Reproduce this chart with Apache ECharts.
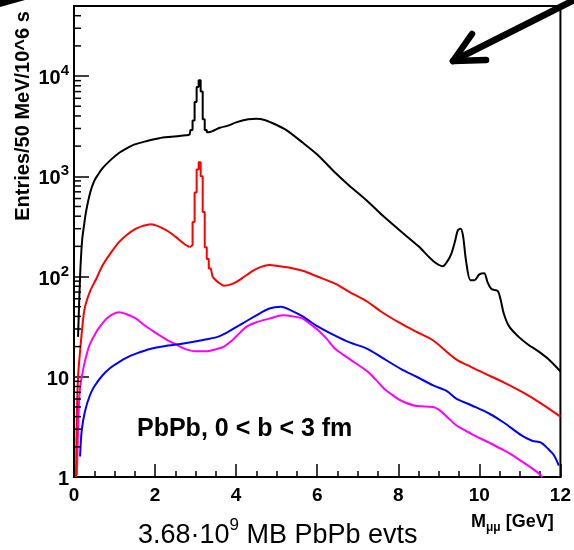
<!DOCTYPE html>
<html><head><meta charset="utf-8">
<script src="https://cdn.jsdelivr.net/npm/echarts@6/dist/echarts.min.js"></script>
<style>html,body{margin:0;padding:0;background:#fff}#c{width:574px;height:550px}</style>
</head><body><div id="c"></div>
<script>
// ---- data ----
const blackMass = [0.1,0.15,0.2,0.25,0.3,0.4,0.5,0.6,0.7,0.9,1.1,1.3,1.5,1.8,2.1,2.4,2.7,2.85,
  3.4,3.6,3.8,4.0,4.3,4.5,4.7,5.0,5.23,5.64,6.0,6.44,6.8,7.24,7.6,8.06,8.5,8.86,9.1,9.2,9.3,9.4,9.47,9.54,9.6,9.67,9.78,9.88,10.0,10.12,10.2,10.3,10.45,10.52,10.6,10.73,10.97,11.2,11.45,11.7,12.0];
const blackVal  = [25,100,230,330,450,690,900,1050,1200,1450,1700,1900,2080,2250,2400,2480,2550,2580,
  2800,3050,3200,3450,3700,3760,3650,3250,2900,2170,1650,1090,800,565,410,283,200,143,127,140,165,225,290,300,250,145,92,92,105,108,88,75,72,60,43,32,25,21,18,15,11.3];
const blackPeakMass = [2.9,2.95,3.0,3.05,3.1,3.15,3.2,3.25,3.3];
const blackPeakVal  = [2900,3600,5500,7800,9100,7000,3700,2900,2750];

const redMass = [0.05,0.07,0.1,0.15,0.2,0.25,0.3,0.4,0.55,0.7,0.9,1.11,1.3,1.53,1.7,1.89,2.1,2.32,2.5,2.73,2.85,
  3.42,3.55,3.7,3.85,4.02,4.25,4.5,4.82,5.0,5.3,5.64,6.0,6.44,6.8,7.24,7.6,8.06,8.45,8.86,9.42,9.8,10.24,10.6,11.04,11.5,12.0];
const redVal  = [1,4,10,18,30,45,55,72,95,128,170,220,260,300,320,333,315,283,250,210,196,
  99,88,81,83,89,103,119,130,128,123,114,100,85,70,56,44,34,28,23,15,12.5,10.3,8.8,7.1,5.5,4.0];
const redPeakMass = [2.9,2.95,3.0,3.05,3.1,3.15,3.2,3.25,3.3,3.35];
const redPeakVal  = [205,350,690,1170,1380,1000,440,196,150,120];

const blueMass = [0.15,0.19,0.27,0.39,0.5,0.7,0.9,1.11,1.3,1.53,1.9,2.32,2.7,3.12,3.54,3.8,4.02,4.26,4.5,4.82,5.11,5.35,5.64,6.0,6.44,6.8,7.24,7.6,8.06,8.45,8.86,9.2,9.42,9.8,10.24,10.6,11.04,11.3,11.52,11.7,11.84,11.96];
const blueVal  = [1.6,2.9,4.5,6.5,8,10.3,12.3,14,15.5,17,19,20.5,21.5,23,25,28,31.6,36,41,48,50,46,40,32,25.7,22,19,15.5,12,10,8.2,7.2,6.1,5.2,4.3,3.5,2.6,2.3,2.2,1.9,1.65,1.3];

const magMass = [0.07,0.12,0.15,0.22,0.3,0.39,0.55,0.7,0.8,0.95,1.11,1.3,1.53,1.72,1.92,2.1,2.32,2.52,2.73,3.0,3.29,3.5,3.7,3.9,4.02,4.26,4.5,4.82,5.15,5.4,5.64,5.85,6.03,6.23,6.44,6.8,7.24,7.45,7.65,7.85,8.06,8.45,8.86,9.03,9.2,9.42,9.8,10.24,10.6,10.87,11.2,11.45,11.55];
const magVal  = [1.05,5,7.7,11.5,16,21,28,34,38,42,44,42,38,33,29,26,23,21,19,18,18,18.8,20,23,25.7,31.6,35,38,41,40,38,33,29,24,19,15,11.3,9.3,7.6,6.6,5.8,5.1,5.0,4.6,4.0,3.3,2.7,2.2,1.85,1.6,1.3,1.1,1.0];

const xTicks = [0,2,4,6,8,10,12];
const yMinorTicks = [2,3,4,5,6,7,8,9,20,30,40,50,60,70,80,90,200,300,400,500,600,700,800,900,2000,3000,4000,5000,6000,7000,8000,9000,20000,30000,40000];

// ---- build ----
const BW = 0.05;
function parts(mass, val, pm, pv) {
  const all = mass.map((m,i) => [m, val[i]]);
  if (!pm) return [all];
  const start = pm[0] - BW/2, end = pm[pm.length-1] + BW/2;
  const pre = all.filter(p => p[0] < start);
  const post = all.filter(p => p[0] > end);
  const peak = [pre[pre.length-1]];
  pm.forEach((c,i) => { peak.push([c - BW/2, pv[i]]); peak.push([c + BW/2, pv[i]]); });
  peak.push(post[0]);
  return [pre, peak, post];
}
const FF = '"Liberation Sans", Arial, Helvetica, sans-serif';
function lineSeries(data, color, smooth) {
  return {type:'line', data, showSymbol:false, symbol:'none', silent:true, clip:true, smooth,
    lineStyle:{color, width:2}, itemStyle:{color}};
}
function curve(mass, val, pm, pv, color) {
  const p = parts(mass, val, pm, pv);
  if (p.length === 1) return [lineSeries(p[0], color, 0.3)];
  return [lineSeries(p[0], color, 0.3), lineSeries(p[1], color, false), lineSeries(p[2], color, 0.3)];
}

const chart = echarts.init(document.getElementById('c'), null, {renderer:'canvas'});
chart.setOption({
  animation:false,
  backgroundColor:'#fff',
  grid:{left:74, right:5, top:6, bottom:73, show:true, borderColor:'#000', borderWidth:2, backgroundColor:'transparent'},
  xAxis:{type:'value', min:xTicks[0], max:xTicks[xTicks.length-1], interval:2,
    axisLine:{show:true, onZero:false, lineStyle:{color:'#000', width:2}},
    axisTick:{show:true, inside:true, length:13, lineStyle:{color:'#000', width:1.5}},
    minorTick:{show:true, splitNumber:4, length:6, lineStyle:{color:'#000', width:1.5}},
    splitLine:{show:false},
    axisLabel:{color:'#000', fontFamily:FF, fontWeight:'bold', fontSize:19, margin:9}
  },
  yAxis:{type:'log', logBase:10, min:1, max:50000, splitNumber:5,
    axisLine:{show:true, lineStyle:{color:'#000', width:2}},
    axisTick:{show:true, inside:true, length:15, lineStyle:{color:'#000', width:1.5}},
    splitLine:{show:false},
    axisLabel:{margin:5, color:'#000',
      formatter: v => {
        const l = Math.log10(v), e = Math.round(l);
        if (Math.abs(l - e) > 1e-6) return '';
        if (e === 0) return '{b|1}';
        if (e === 1) return '{b|10}';
        return '{b|10}{s|' + e + '}';
      },
      rich:{
        b:{fontFamily:FF, fontWeight:'bold', fontSize:20, color:'#000', lineHeight:25, verticalAlign:'bottom'},
        s:{fontFamily:FF, fontWeight:'bold', fontSize:15, color:'#000', lineHeight:25, verticalAlign:'top'}
      }
    }
  },
  series:[
    ...curve(magMass, magVal, null, null, '#ff00ff'),
    ...curve(blueMass, blueVal, null, null, '#0000ff'),
    ...curve(redMass, redVal, redPeakMass, redPeakVal, '#ff0000'),
    ...curve(blackMass, blackVal, blackPeakMass, blackPeakVal, '#000000'),
    {type:'custom', silent:true, clip:false, z:5,
      data: yMinorTicks.map(v => [0, v]),
      renderItem:(params, api) => {
        const p = api.coord([0, api.value(1)]);
        return {type:'line', shape:{x1:p[0], y1:p[1], x2:p[0]+7, y2:p[1]}, style:{stroke:'#000', lineWidth:1.5}};
      }
    }
  ],
  graphic:[
    {type:'text', x:23, y:116, rotation:Math.PI/2, silent:true,
      style:{text:'Entries/50 MeV/10^6 s', font:'bold 20px ' + FF, fill:'#000', textAlign:'center', textVerticalAlign:'middle'}},
    {type:'text', x:137, y:429, silent:true,
      style:{text:'PbPb, 0 < b < 3 fm', font:'bold 25px ' + FF, fill:'#000', textAlign:'left', textVerticalAlign:'middle'}},
    {type:'text', x:471, y:522, silent:true,
      style:{text:'{m|M}{s|μμ}{m| [GeV]}', textVerticalAlign:'middle', rich:{
        m:{fontFamily:FF, fontWeight:'bold', fontSize:18, color:'#000', lineHeight:24, verticalAlign:'middle'},
        s:{fontFamily:FF, fontWeight:'bold', fontSize:12, color:'#000', lineHeight:24, verticalAlign:'bottom'}}}},
    {type:'text', x:138, y:533, silent:true,
      style:{text:'{a|3.68·10}{s|9}{a| MB PbPb evts}', textVerticalAlign:'middle', rich:{
        a:{fontFamily:FF, fontSize:27, color:'#000', lineHeight:32, verticalAlign:'bottom'},
        s:{fontFamily:FF, fontSize:17, color:'#000', lineHeight:32, verticalAlign:'top'}}}},
    {type:'polyline', silent:true, shape:{points:[[580,-3],[453,61]]}, style:{stroke:'#000', lineWidth:6.5, lineCap:'round', fill:null}},
    {type:'polyline', silent:true, shape:{points:[[472,34],[453,61],[486,60]]}, style:{stroke:'#000', lineWidth:6.5, lineCap:'round', lineJoin:'round', fill:null}},
    {type:'polygon', silent:true, shape:{points:[[0,0],[25,0],[0,7]]}, style:{fill:'#000'}}
  ]
});
</script></body></html>
